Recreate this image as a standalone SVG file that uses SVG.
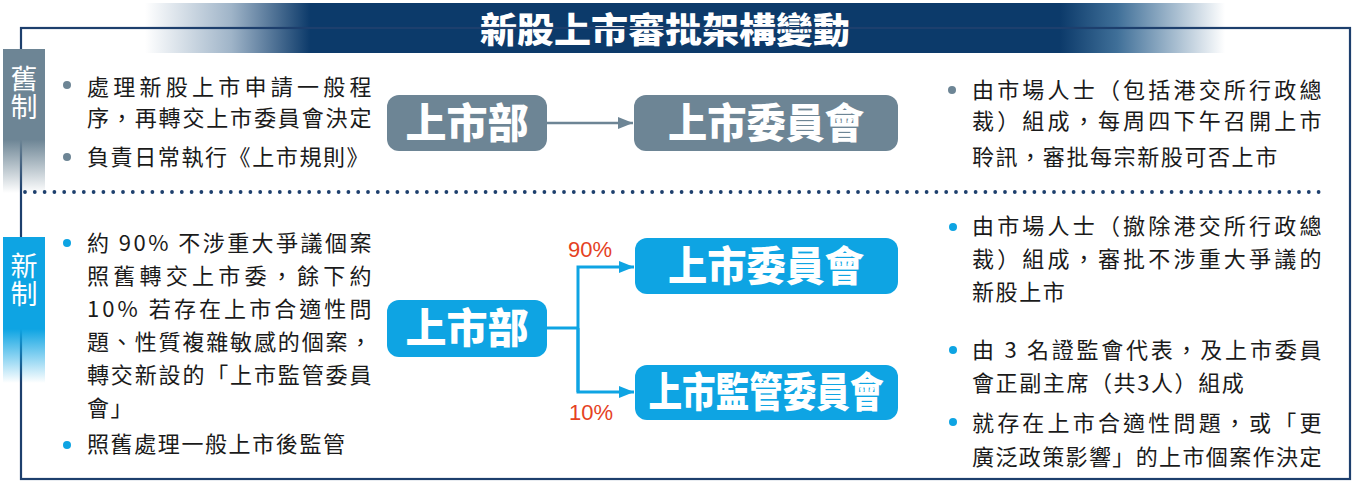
<svg xmlns="http://www.w3.org/2000/svg" width="1353" height="482" viewBox="0 0 1353 482">
<defs>
<linearGradient id="titleGrad" gradientUnits="userSpaceOnUse" x1="145" y1="0" x2="1225" y2="0">
<stop offset="0" stop-color="#ffffff"/>
<stop offset="0.08" stop-color="#9fb4c8"/>
<stop offset="0.153" stop-color="#0c3a6a"/>
<stop offset="0.847" stop-color="#0c3a6a"/>
<stop offset="0.9" stop-color="#3f6f98"/>
<stop offset="1" stop-color="#ffffff"/>
</linearGradient>
<linearGradient id="oldTab" x1="0" y1="0" x2="0" y2="1">
<stop offset="0" stop-color="#6d8595"/>
<stop offset="0.63" stop-color="#6d8595"/>
<stop offset="1" stop-color="#6d8595" stop-opacity="0"/>
</linearGradient>
<linearGradient id="newTab" x1="0" y1="0" x2="0" y2="1">
<stop offset="0" stop-color="#0ea4e3"/>
<stop offset="0.63" stop-color="#0ea4e3"/>
<stop offset="1" stop-color="#0ea4e3" stop-opacity="0"/>
</linearGradient>
<marker id="arrGrey" markerUnits="userSpaceOnUse" markerWidth="16" markerHeight="14" refX="15" refY="7" orient="auto">
<path d="M0,1 L15,7 L0,13 Z" fill="#6d8595"/>
</marker>
<marker id="arrBlue" markerUnits="userSpaceOnUse" markerWidth="16" markerHeight="14" refX="15" refY="7" orient="auto">
<path d="M0,1 L15,7 L0,13 Z" fill="#0ea4e3"/>
</marker>
<style>
.body{font-family:"Noto Sans CJK TC","Noto Sans CJK SC",sans-serif;font-size:22px;fill:#1a1a1a;letter-spacing:1.6px}
.tab{font-family:"Noto Sans CJK TC",sans-serif;font-size:27px;fill:#ffffff;writing-mode:vertical-rl;letter-spacing:1px}
.node{font-family:"Noto Sans CJK TC",sans-serif;font-size:41px;font-weight:900;fill:#ffffff;text-anchor:middle}
.pct{font-family:"Liberation Sans",Arial,sans-serif;font-size:22px;fill:#e5421f}
.oldBox{fill:#6d8595}
.newBox{fill:#0ea4e3}
.oldDot{fill:#6d8595}
.newDot{fill:#0ea4e3}
</style>
</defs>
<rect x="0" y="0" width="1353" height="482" fill="#ffffff"/>
<g id="title">
<rect x="145" y="3" width="1080" height="50" fill="url(#titleGrad)"/>
<text x="665" y="43" font-family="'Noto Sans CJK TC',sans-serif" font-size="35" font-weight="900" fill="#ffffff" text-anchor="middle" textLength="370" lengthAdjust="spacingAndGlyphs">新股上市審批架構變動</text>
</g>
<g id="frame">
<rect x="21" y="28" width="1329" height="451" fill="none" stroke="#1d3f6d" stroke-width="2.2"/>
<line x1="25" y1="192" x2="1324" y2="192" stroke="#1d3f6d" stroke-width="3.8" stroke-linecap="round" stroke-dasharray="0 9.8"/>
</g>
<g id="tab-old">
<rect x="3" y="49" width="42" height="144" fill="url(#oldTab)"/>
<text class="tab" x="24" y="65">舊制</text>
</g>
<g id="tab-new">
<rect x="3" y="237" width="42" height="146" fill="url(#newTab)"/>
<text class="tab" x="24" y="252">新制</text>
</g>
<g id="old-left-text">
<circle class="oldDot" cx="67" cy="85" r="4"/>
<text class="body" x="87" y="95" textLength="286" lengthAdjust="spacing">處理新股上市申請一般程</text>
<text class="body" x="87" y="126" textLength="286" lengthAdjust="spacing">序，再轉交上市委員會決定</text>
<circle class="oldDot" cx="67" cy="157" r="4"/>
<text class="body" x="87" y="165">負責日常執行《上市規則》</text>
</g>
<g id="old-listing-dept">
<rect class="oldBox" x="387" y="95" width="160" height="56" rx="12"/>
<text class="node" x="467" y="138">上市部</text>
</g>
<g id="old-listing-committee">
<rect class="oldBox" x="634" y="95" width="264" height="56" rx="12"/>
<text class="node" x="766" y="138" textLength="196" lengthAdjust="spacingAndGlyphs">上市委員會</text>
</g>
<g id="old-right-text">
<circle class="oldDot" cx="952" cy="90" r="4"/>
<text class="body" x="972" y="98" textLength="351" lengthAdjust="spacing">由市場人士（包括港交所行政總</text>
<text class="body" x="972" y="129" textLength="351" lengthAdjust="spacing">裁）組成，每周四下午召開上市</text>
<text class="body" x="972" y="165">聆訊，審批每宗新股可否上市</text>
</g>
<g id="new-left-text">
<circle class="newDot" cx="67" cy="243" r="4"/>
<text class="body" x="87" y="251" textLength="286" lengthAdjust="spacing">約 90% 不涉重大爭議個案</text>
<text class="body" x="87" y="284" textLength="286" lengthAdjust="spacing">照舊轉交上市委，餘下約</text>
<text class="body" x="87" y="317" textLength="286" lengthAdjust="spacing">10% 若存在上市合適性問</text>
<text class="body" x="87" y="350" textLength="286" lengthAdjust="spacing">題、性質複雜敏感的個案，</text>
<text class="body" x="87" y="383" textLength="286" lengthAdjust="spacing">轉交新設的「上市監管委員</text>
<text class="body" x="87" y="416">會」</text>
<circle class="newDot" cx="67" cy="445" r="4"/>
<text class="body" x="87" y="452">照舊處理一般上市後監管</text>
</g>
<g id="new-listing-dept">
<rect class="newBox" x="387" y="300" width="160" height="57" rx="12"/>
<text class="node" x="467" y="343">上市部</text>
</g>
<g id="new-listing-committee">
<rect class="newBox" x="635" y="238" width="263" height="56" rx="12"/>
<text class="node" x="766" y="281" textLength="196" lengthAdjust="spacingAndGlyphs">上市委員會</text>
</g>
<g id="new-listing-review-committee">
<rect class="newBox" x="635" y="365" width="263" height="55" rx="12"/>
<text class="node" x="766" y="407" textLength="235" lengthAdjust="spacingAndGlyphs">上市監管委員會</text>
</g>
<g id="new-right-text">
<circle class="newDot" cx="953" cy="227" r="4"/>
<text class="body" x="972" y="234" textLength="351" lengthAdjust="spacing">由市場人士（撤除港交所行政總</text>
<text class="body" x="972" y="267" textLength="351" lengthAdjust="spacing">裁）組成，審批不涉重大爭議的</text>
<text class="body" x="972" y="300">新股上市</text>
<circle class="newDot" cx="953" cy="350" r="4"/>
<text class="body" x="972" y="358" textLength="351" lengthAdjust="spacing">由 3 名證監會代表，及上市委員</text>
<text class="body" x="972" y="391">會正副主席（共3人）組成</text>
<circle class="newDot" cx="953" cy="422" r="4"/>
<text class="body" x="972" y="431" textLength="351" lengthAdjust="spacing">就存在上市合適性問題，或「更</text>
<text class="body" x="972" y="465" textLength="351" lengthAdjust="spacing">廣泛政策影響」的上市個案作決定</text>
</g>
<g id="connectors" fill="none">
<line x1="547" y1="123" x2="633" y2="123" stroke="#6d8595" stroke-width="2.5" marker-end="url(#arrGrey)"/>
<path d="M547,328 H578" stroke="#0ea4e3" stroke-width="3"/>
<path d="M578,392 V267 H634" stroke="#0ea4e3" stroke-width="3" marker-end="url(#arrBlue)"/>
<path d="M578,328 V392 H634" stroke="#0ea4e3" stroke-width="3" marker-end="url(#arrBlue)"/>
<text class="pct" x="568" y="257">90%</text>
<text class="pct" x="569" y="420">10%</text>
</g>
</svg>
